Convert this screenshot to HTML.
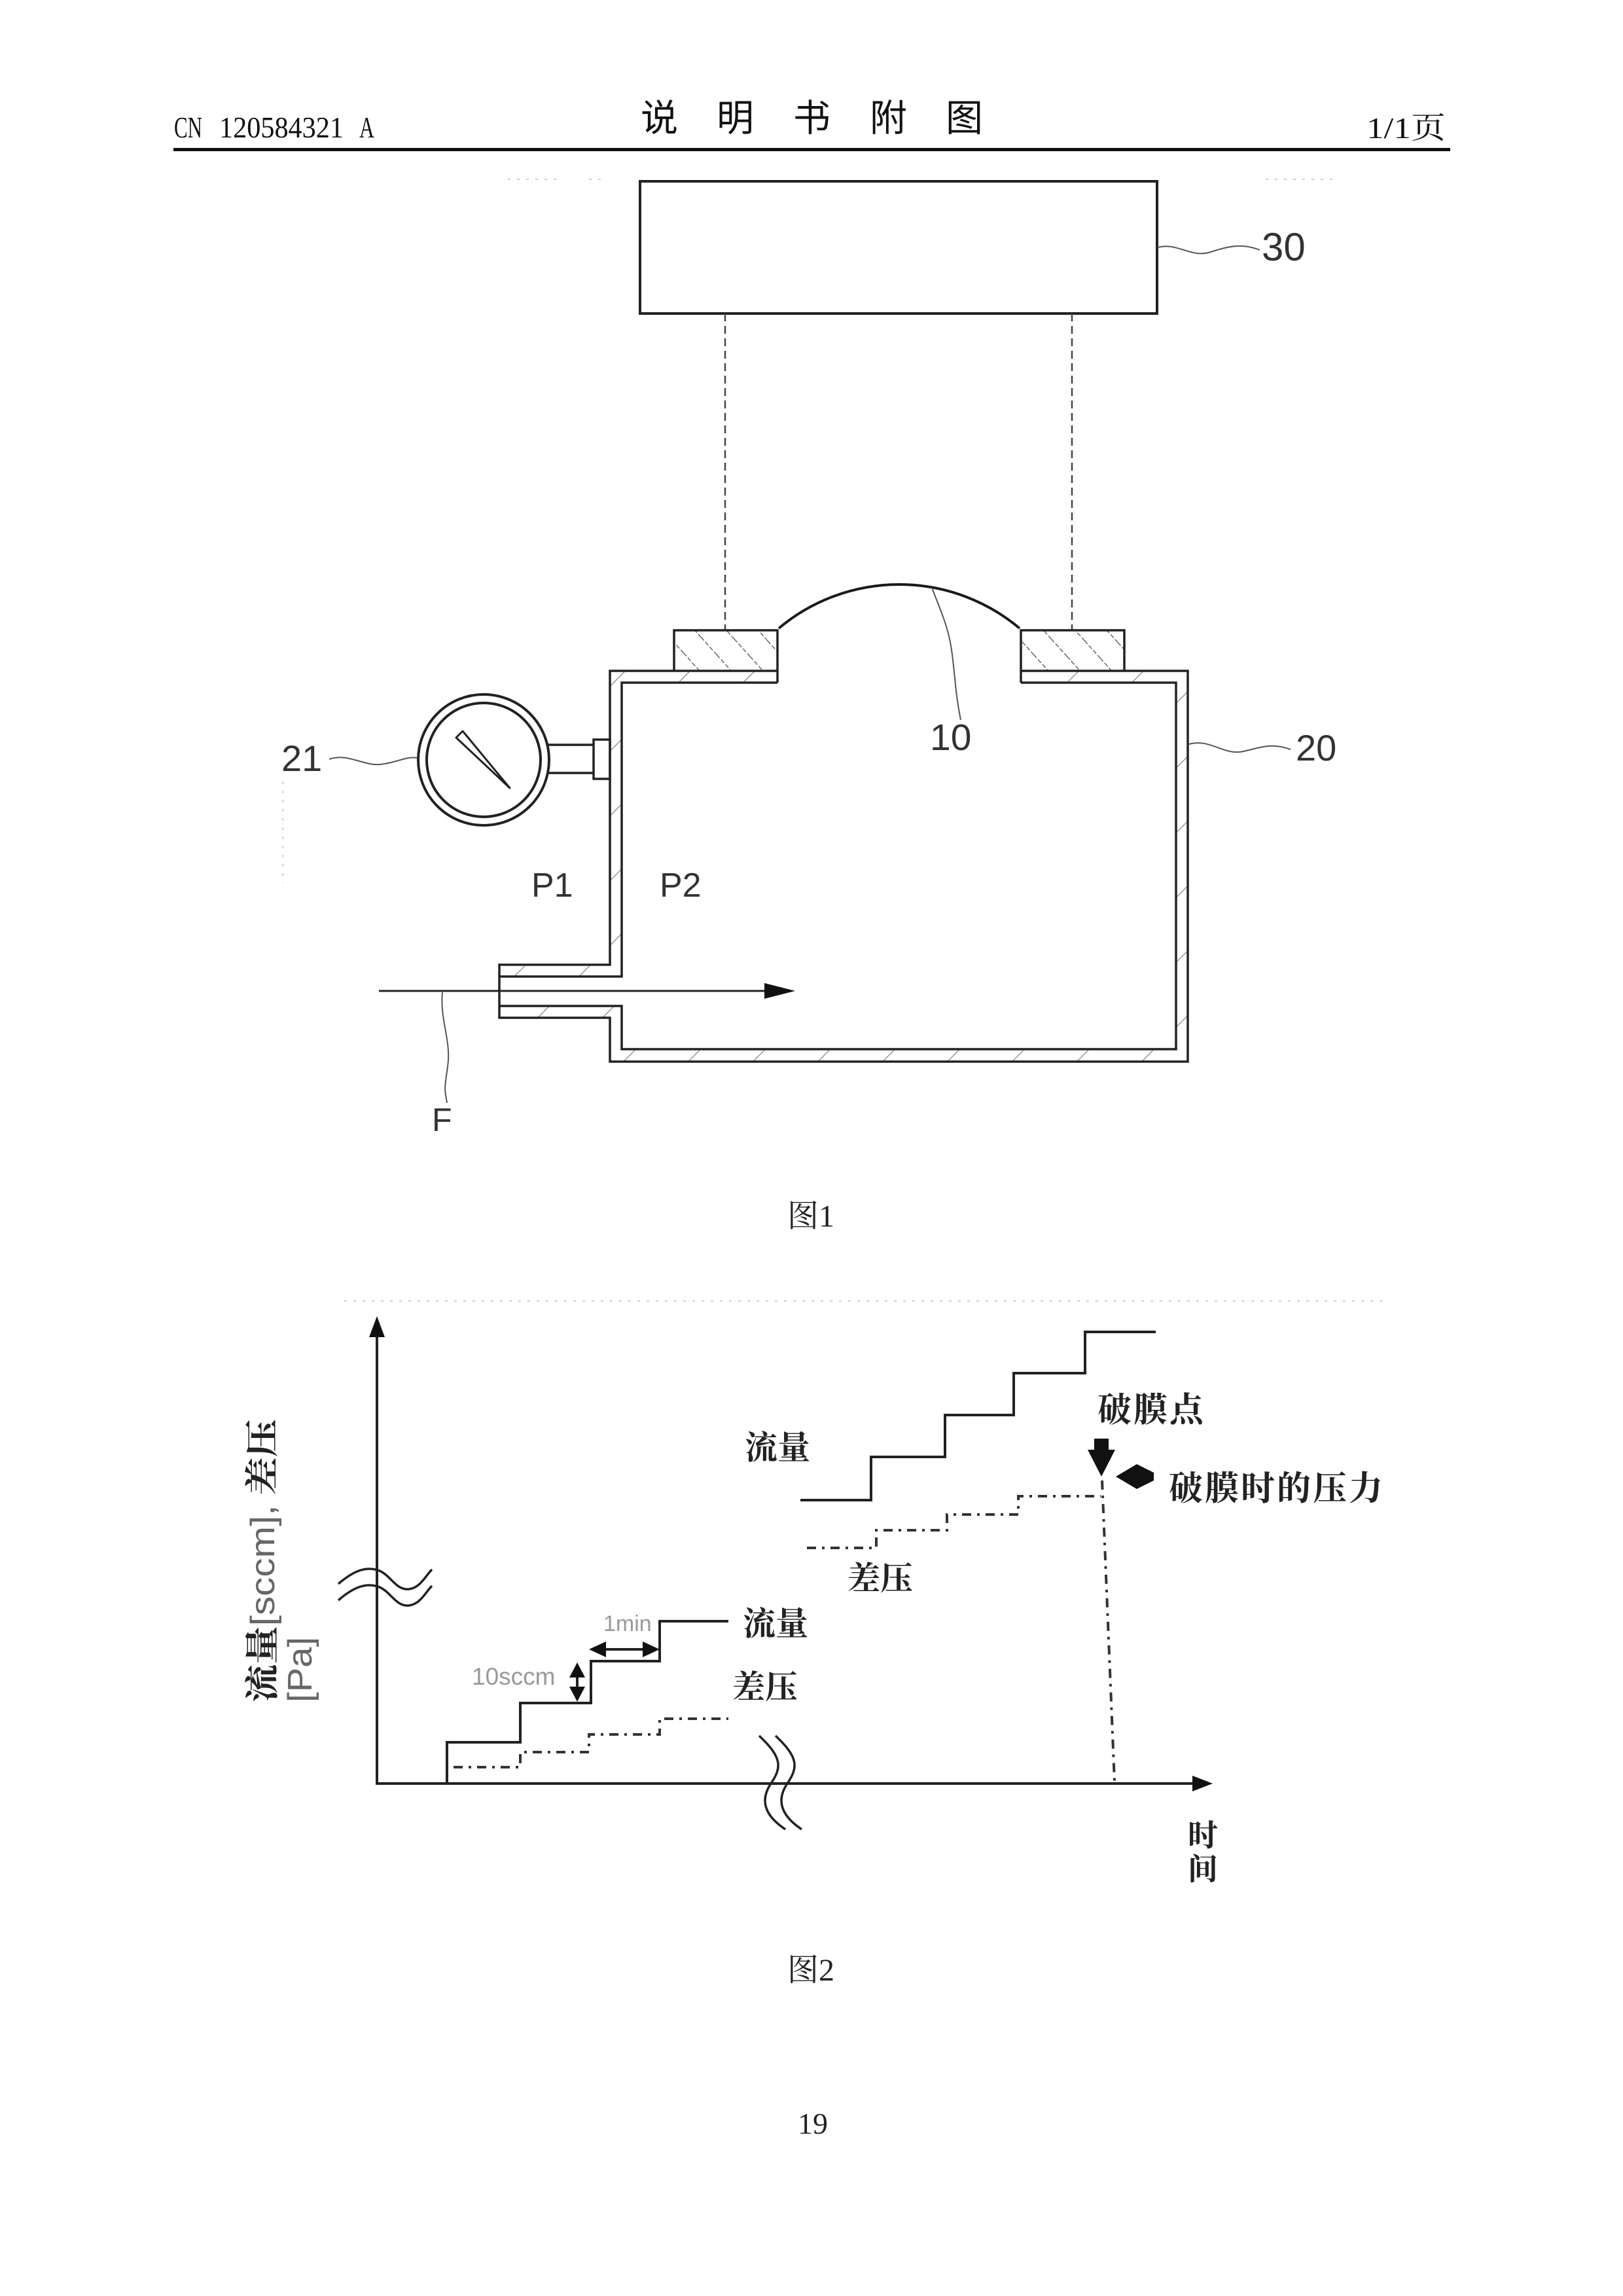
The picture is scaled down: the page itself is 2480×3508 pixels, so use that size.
<!DOCTYPE html>
<html><head><meta charset="utf-8">
<style>
html,body{margin:0;padding:0;background:#fff;}
svg{display:block;}
</style></head><body>
<svg width="2480" height="3508" viewBox="0 0 2480 3508" xmlns="http://www.w3.org/2000/svg">
<defs>
<pattern id="hw" patternUnits="userSpaceOnUse" width="70" height="70" patternTransform="rotate(45)">
 <line x1="0" y1="0" x2="0" y2="70" stroke="#666" stroke-width="2"/>
</pattern>
<pattern id="hf" patternUnits="userSpaceOnUse" width="36" height="36" patternTransform="rotate(-42)">
 <line x1="0" y1="0" x2="0" y2="36" stroke="#333" stroke-width="2.2" stroke-dasharray="7 3"/>
</pattern>
</defs>
<rect width="2480" height="3508" fill="#fff"/>

<!-- ===== Header ===== -->
<g font-family="Liberation Serif, serif" fill="#111">
 <text x="266" y="210" font-size="46" textLength="43" lengthAdjust="spacingAndGlyphs">CN</text>
 <text x="335" y="210" font-size="46" textLength="190" lengthAdjust="spacingAndGlyphs">120584321</text>
 <text x="549" y="210" font-size="46" textLength="23" lengthAdjust="spacingAndGlyphs">A</text>
</g>
<g font-family="Noto Sans CJK SC, sans-serif" font-size="57" fill="#111">
 <text x="979" y="200">说</text>
 <text x="1095" y="200">明</text>
 <text x="1212" y="200">书</text>
 <text x="1329" y="200">附</text>
 <text x="1445" y="200">图</text>
</g>
<text x="2088" y="211" font-family="Liberation Serif, Noto Serif CJK SC, serif" font-size="46" fill="#111" textLength="121" lengthAdjust="spacingAndGlyphs">1/1页</text>
<rect x="265" y="226" width="1951" height="5" fill="#111"/>

<!-- faint scan dots -->
<g stroke="#cfcfcf" stroke-width="2" stroke-dasharray="4 10">
 <line x1="776" y1="274" x2="860" y2="274"/>
 <line x1="900" y1="274" x2="925" y2="274"/>
 <line x1="1934" y1="274" x2="2041" y2="274"/>
 <line x1="432" y1="1194" x2="432" y2="1349"/>
 <line x1="526" y1="1988" x2="2117" y2="1988"/>
</g>

<!-- ===== Figure 1 ===== -->
<!-- box 30 -->
<rect x="978" y="277" width="790" height="202" fill="none" stroke="#222" stroke-width="4"/>
<path d="M1769,378 C1800,370 1820,395 1850,385 S1900,372 1925,382" fill="none" stroke="#555" stroke-width="2"/>
<text x="1928" y="398" font-family="Liberation Sans, sans-serif" font-size="60" fill="#333">30</text>

<!-- dashed links -->
<g stroke="#444" stroke-width="2.5" stroke-dasharray="12 7" fill="none">
 <line x1="1108" y1="479" x2="1108" y2="963"/>
 <line x1="1638" y1="479" x2="1638" y2="963"/>
</g>

<!-- wall hatch regions -->
<path d="M1188,1025 H932 V1474 H763 V1492 H950 V1043 H1188 Z" fill="url(#hw)"/>
<path d="M763,1537 H950 V1603 H1797 V1043 H1560 V1025 H1815 V1622 H932 V1555 H763 Z" fill="url(#hw)"/>
<!-- flanges -->
<rect x="1030" y="963" width="158" height="62" fill="url(#hf)"/>
<rect x="1560" y="963" width="158" height="62" fill="url(#hf)"/>

<g fill="none" stroke="#222" stroke-width="3.5" stroke-linejoin="miter">
 <path d="M1188,1025 H932 V1474 H763 V1555 H932 V1622 H1815 V1025 H1560"/>
 <path d="M1188,1043 H950 V1492 H763"/>
 <path d="M763,1537 H950 V1603 H1797 V1043 H1560"/>
 <path d="M1030,1025 V963 H1188 V1043"/>
 <path d="M1718,1025 V963 H1560 V1043"/>
</g>
<!-- dome membrane -->
<path d="M1190,960 A286,286 0 0 1 1558,960" fill="none" stroke="#1a1a1a" stroke-width="4"/>
<path d="M1424,898 C1440,940 1450,960 1455,1000 S1460,1060 1468,1100" fill="none" stroke="#555" stroke-width="2"/>
<text x="1421" y="1146" font-family="Liberation Sans, sans-serif" font-size="57" fill="#333">10</text>

<!-- label 20 -->
<path d="M1817,1137 C1850,1128 1870,1155 1900,1148 S1945,1135 1972,1145" fill="none" stroke="#555" stroke-width="2"/>
<text x="1980" y="1162" font-family="Liberation Sans, sans-serif" font-size="56" fill="#333">20</text>

<!-- gauge 21 -->
<circle cx="739" cy="1161" r="100" fill="none" stroke="#222" stroke-width="4"/>
<circle cx="739" cy="1161" r="87" fill="none" stroke="#222" stroke-width="4"/>
<g stroke="#222" stroke-width="3.5" fill="none">
 <line x1="838" y1="1138" x2="907" y2="1138"/>
 <line x1="838" y1="1181" x2="907" y2="1181"/>
 <rect x="907" y="1130" width="25" height="60"/>
</g>
<polygon points="697,1127 707,1117 779,1204" fill="#fff" stroke="#222" stroke-width="3" stroke-linejoin="round"/>
<path d="M503,1160 C530,1150 555,1170 580,1168 S620,1155 638,1158" fill="none" stroke="#555" stroke-width="2"/>
<text x="430" y="1178" font-family="Liberation Sans, sans-serif" font-size="56" fill="#333">21</text>

<!-- P1 P2 -->
<text x="812" y="1370" font-family="Liberation Sans, sans-serif" font-size="52" fill="#333">P1</text>
<text x="1008" y="1370" font-family="Liberation Sans, sans-serif" font-size="52" fill="#333">P2</text>

<!-- flow arrow F -->
<line x1="579" y1="1514" x2="1180" y2="1514" stroke="#222" stroke-width="3"/>
<polygon points="1168,1502 1215,1514 1168,1526" fill="#111"/>
<path d="M676,1516 C672,1560 690,1590 684,1630 S680,1665 683,1685" fill="none" stroke="#555" stroke-width="2"/>
<text x="660" y="1728" font-family="Liberation Sans, sans-serif" font-size="50" fill="#333">F</text>

<!-- caption 图1 -->
<text x="1203" y="1874" font-family="Liberation Serif, Noto Serif CJK SC, serif" font-size="48" fill="#222">图1</text>

<!-- ===== Figure 2 ===== -->
<!-- axes -->
<g stroke="#222" stroke-width="4" fill="none">
 <line x1="576" y1="2035" x2="576" y2="2727"/>
 <line x1="574" y1="2725" x2="1830" y2="2725"/>
</g>
<polygon points="576,2011 564,2043 588,2043" fill="#111"/>
<polygon points="1853,2725 1822,2713 1822,2737" fill="#111"/>

<!-- axis breaks -->
<g fill="none" stroke="#222" stroke-width="3.5">
 <path d="M517,2420 C540,2400 560,2392 580,2400 C598,2408 605,2430 625,2428 C642,2426 650,2408 660,2398"/>
 <path d="M517,2445 C540,2425 560,2417 580,2425 C598,2433 605,2455 625,2453 C642,2451 650,2433 660,2423"/>
 <path d="M1160,2652 C1195,2685 1195,2700 1178,2725 C1160,2752 1170,2775 1200,2795"/>
 <path d="M1185,2652 C1220,2685 1220,2700 1203,2725 C1185,2752 1195,2775 1225,2795"/>
</g>

<!-- staircases: flow (solid) -->
<g fill="none" stroke="#222" stroke-width="4" stroke-linejoin="miter">
 <path d="M576,2725 H683 V2662 H795 V2602 H903 V2538 H1008 V2477 H1113"/>
 <path d="M1223,2292 H1331 V2226 H1444 V2162 H1549 V2098 H1658 V2035 H1766"/>
</g>
<!-- staircases: diff pressure (dash-dot) -->
<g fill="none" stroke="#333" stroke-width="4" stroke-dasharray="14 9 4 9">
 <path d="M693,2700 H795 V2677 H900 V2650 H1008 V2626 H1113"/>
 <path d="M1233,2365 H1339 V2338 H1447 V2314 H1556 V2286 H1682"/>
 <path d="M1684,2262 L1703,2722"/>
</g>

<!-- 1min / 10sccm annotations -->
<text x="922" y="2492" font-family="Liberation Sans, sans-serif" font-size="34" fill="#999">1min</text>
<line x1="915" y1="2520" x2="995" y2="2520" stroke="#222" stroke-width="4"/>
<polygon points="900,2520 926,2508 926,2532" fill="#111"/>
<polygon points="1008,2520 982,2508 982,2532" fill="#111"/>
<text x="721" y="2574" font-family="Liberation Sans, sans-serif" font-size="37" fill="#999">10sccm</text>
<line x1="882" y1="2555" x2="882" y2="2585" stroke="#222" stroke-width="4"/>
<polygon points="882,2540 870,2563 894,2563" fill="#111"/>
<polygon points="882,2600 870,2577 894,2577" fill="#111"/>

<!-- break point arrows -->
<polygon points="1672,2198 1694,2198 1694,2215 1704,2215 1683,2256 1662,2215 1672,2215" fill="#111"/>
<polygon points="1705,2256 1737,2237 1763,2250 1763,2262 1737,2275" fill="#111"/>

<!-- fig 2 labels -->
<g font-family="Noto Serif CJK SC, serif" font-weight="700" fill="#222">
 <text x="1138" y="2229" font-size="50">流量</text>
 <text x="1295" y="2429" font-size="50">差压</text>
 <text x="1135" y="2498" font-size="50">流量</text>
 <text x="1119" y="2595" font-size="50">差压</text>
 <text x="1677" y="2172" font-size="52" letter-spacing="3">破膜点</text>
 <text x="1786" y="2292" font-size="52" letter-spacing="3">破膜时的压力</text>
 <text x="1815" y="2820" font-size="46">时</text>
 <text x="1815" y="2872" font-size="46">间</text>
</g>

<!-- y-axis label rotated -->
<text transform="translate(419,2601) rotate(-90)" font-family="Noto Serif CJK SC, serif" font-weight="700" font-size="52" fill="#222" textLength="433" lengthAdjust="spacingAndGlyphs">流量<tspan font-family="Liberation Sans, sans-serif" font-weight="400" fill="#666">[sccm],</tspan> 差压</text>
<text transform="translate(476,2601) rotate(-90)" font-family="Liberation Sans, sans-serif" font-size="52" fill="#666" textLength="100" lengthAdjust="spacingAndGlyphs">[Pa]</text>

<!-- caption 图2 and page number -->
<text x="1203" y="3026" font-family="Liberation Serif, Noto Serif CJK SC, serif" font-size="48" fill="#222">图2</text>
<text x="1219" y="3260" font-family="Liberation Serif, serif" font-size="46" fill="#222">19</text>
</svg>
</body></html>
